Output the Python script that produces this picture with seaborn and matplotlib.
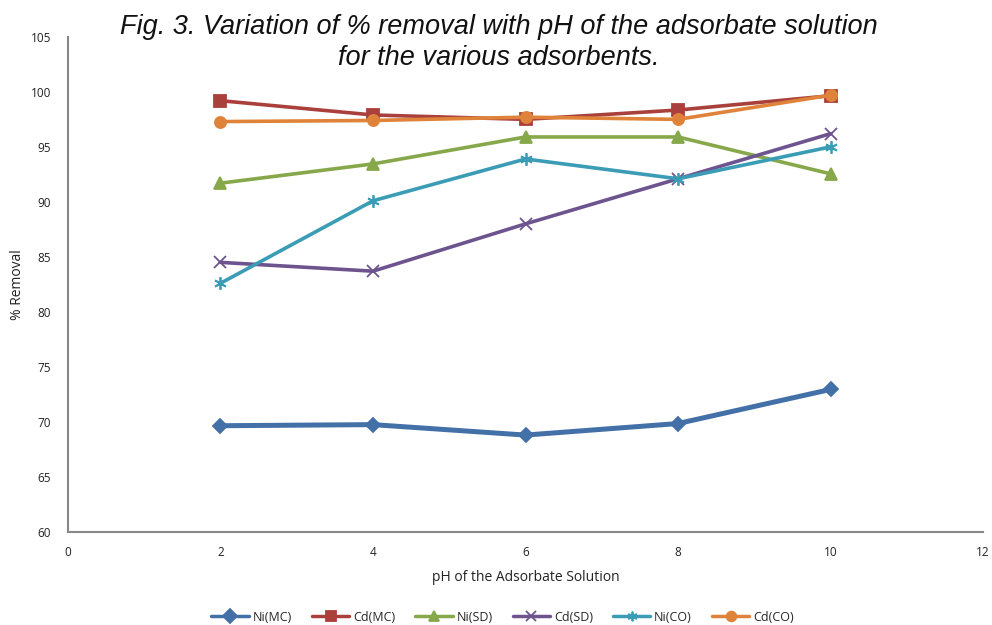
import matplotlib
matplotlib.use("Agg")
import matplotlib.pyplot as plt
import seaborn as sns
import pandas as pd

# pH values and % removal per adsorbent/metal series
ph = [2, 4, 6, 8, 10]
ni_mc = [69.65, 69.75, 68.8, 69.85, 72.95]
cd_mc = [99.2, 97.9, 97.5, 98.35, 99.65]
ni_sd = [91.7, 93.45, 95.9, 95.9, 92.55]
cd_sd = [84.5, 83.7, 88.0, 92.1, 96.2]
ni_co = [82.6, 90.1, 93.9, 92.1, 95.0]
cd_co = [97.3, 97.4, 97.7, 97.5, 99.7]

series_names = ["Ni(MC)", "Cd(MC)", "Ni(SD)", "Cd(SD)", "Ni(CO)", "Cd(CO)"]
series_values = [ni_mc, cd_mc, ni_sd, cd_sd, ni_co, cd_co]
colors = ["#4470A8", "#A9403C", "#87A84A", "#6E548F", "#3A9CB5", "#E0833A"]
markers = ["D", "s", "^", "x", (6, 2, 0), "o"]
sizes = [7, 8, 8, 8, 9, 8]
widths = [3.6, 2.6, 2.6, 2.6, 2.6, 2.6]

df = pd.DataFrame({
    "pH": ph * len(series_names),
    "Removal": sum(series_values, []),
    "Series": sum([[n] * len(ph) for n in series_names], []),
})

sns.set_theme(style="white")
plt.rcParams["font.family"] = ["Open Sans", "DejaVu Sans"]

fig = plt.figure(figsize=(9.92, 6.25), dpi=100)
ax = fig.add_axes([0.0685, 0.149, 0.9225, 0.792])

for name, col, mk, ms, lw in zip(series_names, colors, markers, sizes, widths):
    sub = df[df["Series"] == name]
    sns.lineplot(data=sub, x="pH", y="Removal", ax=ax, color=col, marker=mk,
                 markersize=ms, linewidth=lw, markeredgecolor=col,
                 markeredgewidth=1.3, label=name, zorder=3)

ax.set_xlim(0, 12)
ax.set_ylim(60, 105)
ax.set_xticks(range(0, 13, 2))
ax.set_yticks(range(60, 106, 5))
ax.tick_params(axis="both", length=0, labelsize=8.5, colors="#222222", pad=10)
ax.tick_params(axis="y", pad=12)
for side in ["top", "right"]:
    ax.spines[side].set_visible(False)
for side in ["left", "bottom"]:
    ax.spines[side].set_color("#888888")
    ax.spines[side].set_linewidth(1.5)
ax.grid(False)

ax.set_xlabel("pH of the Adsorbate Solution", fontsize=10, color="#222222", labelpad=8)
ax.set_ylabel("% Removal", fontsize=10, color="#222222", labelpad=4)

title_font = ["Liberation Sans", "DejaVu Sans"]
fig.text(0.503, 0.957, "Fig. 3. Variation of % removal with pH of the adsorbate solution",
         ha="center", va="center", fontsize=19.5, style="italic",
         family=title_font, color="#111111")
fig.text(0.503, 0.907, "for the various adsorbents.",
         ha="center", va="center", fontsize=19.5, style="italic",
         family=title_font, color="#111111")

leg = ax.legend(loc="center", bbox_to_anchor=(0.475, -0.172), ncol=6, frameon=False,
                fontsize=9, handlelength=3.0, columnspacing=1.6, handletextpad=0.3)
for h in leg.legend_handles:
    h.set_markersize(7)
    h.set_linewidth(2.5)

fig.savefig("out.png", dpi=100)
